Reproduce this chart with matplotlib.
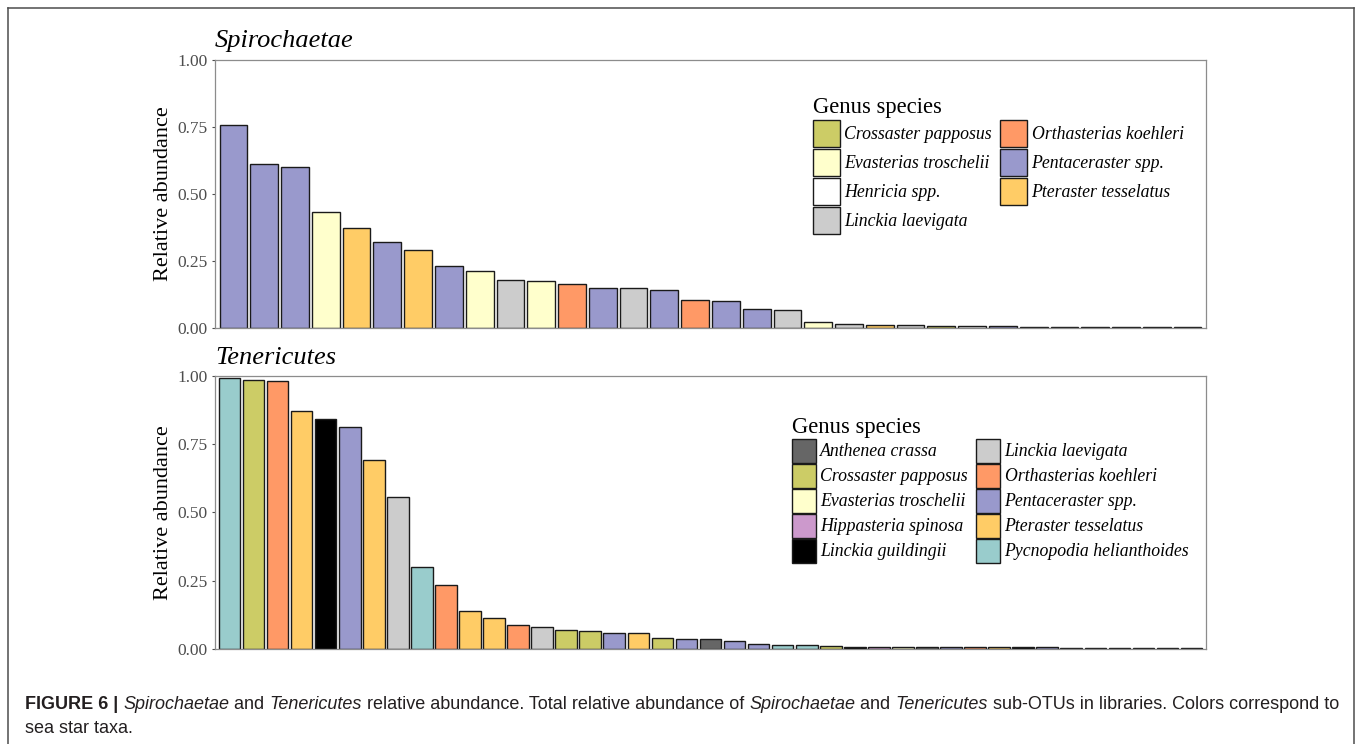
import matplotlib
matplotlib.use("Agg")
import matplotlib.pyplot as plt
from matplotlib.patches import Patch
from matplotlib.lines import Line2D

# ---- sea star taxa and their fill colours ----
taxa_colors = {
    "Anthenea crassa": "#666666",
    "Crossaster papposus": "#CCCC66",
    "Evasterias troschelii": "#FFFFCC",
    "Henricia spp.": "#FFFFFF",
    "Hippasteria spinosa": "#CC99CC",
    "Linckia guildingii": "#000000",
    "Linckia laevigata": "#CCCCCC",
    "Orthasterias koehleri": "#FF9966",
    "Pentaceraster spp.": "#9999CC",
    "Pteraster tesselatus": "#FFCC66",
    "Pycnopodia helianthoides": "#99CCCC",
}

# ---- Spirochaetae sub-OTUs ----
spiro_values = [0.758, 0.610, 0.600, 0.432, 0.374, 0.321, 0.291, 0.232, 0.211, 0.178,
                0.173, 0.164, 0.149, 0.148, 0.141, 0.102, 0.100, 0.071, 0.066, 0.020,
                0.014, 0.011, 0.009, 0.008, 0.007, 0.005, 0.004, 0.004, 0.003, 0.003,
                0.002, 0.001]
spiro_taxa = ["Pentaceraster spp.", "Pentaceraster spp.", "Pentaceraster spp.",
              "Evasterias troschelii", "Pteraster tesselatus", "Pentaceraster spp.",
              "Pteraster tesselatus", "Pentaceraster spp.", "Evasterias troschelii",
              "Linckia laevigata", "Evasterias troschelii", "Orthasterias koehleri",
              "Pentaceraster spp.", "Linckia laevigata", "Pentaceraster spp.",
              "Orthasterias koehleri", "Pentaceraster spp.", "Pentaceraster spp.",
              "Linckia laevigata", "Evasterias troschelii", "Linckia laevigata",
              "Pteraster tesselatus", "Linckia laevigata", "Crossaster papposus",
              "Henricia spp.", "Pentaceraster spp.", "Pentaceraster spp.",
              "Evasterias troschelii", "Pentaceraster spp.", "Orthasterias koehleri",
              "Pentaceraster spp.", "Pteraster tesselatus"]
spiro_legend = ["Crossaster papposus", "Evasterias troschelii", "Henricia spp.",
                "Linckia laevigata", "Orthasterias koehleri", "Pentaceraster spp.",
                "Pteraster tesselatus"]

# ---- Tenericutes sub-OTUs ----
teneri_values = [0.993, 0.984, 0.983, 0.872, 0.841, 0.812, 0.693, 0.557, 0.301, 0.232,
                 0.138, 0.111, 0.088, 0.078, 0.070, 0.065, 0.059, 0.056, 0.038, 0.037,
                 0.037, 0.028, 0.016, 0.015, 0.014, 0.010, 0.008, 0.007, 0.007, 0.006,
                 0.006, 0.005, 0.005, 0.005, 0.005, 0.004, 0.003, 0.003, 0.003, 0.002,
                 0.002]
teneri_taxa = ["Pycnopodia helianthoides", "Crossaster papposus", "Orthasterias koehleri",
               "Pteraster tesselatus", "Linckia guildingii", "Pentaceraster spp.",
               "Pteraster tesselatus", "Linckia laevigata", "Pycnopodia helianthoides",
               "Orthasterias koehleri", "Pteraster tesselatus", "Pteraster tesselatus",
               "Orthasterias koehleri", "Linckia laevigata", "Crossaster papposus",
               "Crossaster papposus", "Pentaceraster spp.", "Pteraster tesselatus",
               "Crossaster papposus", "Pentaceraster spp.", "Anthenea crassa",
               "Pentaceraster spp.", "Pentaceraster spp.", "Pycnopodia helianthoides",
               "Pycnopodia helianthoides", "Crossaster papposus", "Linckia guildingii",
               "Hippasteria spinosa", "Evasterias troschelii", "Anthenea crassa",
               "Pentaceraster spp.", "Orthasterias koehleri", "Pteraster tesselatus",
               "Linckia guildingii", "Pentaceraster spp.", "Pycnopodia helianthoides",
               "Pentaceraster spp.", "Orthasterias koehleri", "Pteraster tesselatus",
               "Pentaceraster spp.", "Linckia laevigata"]
teneri_legend = ["Anthenea crassa", "Crossaster papposus", "Evasterias troschelii",
                 "Hippasteria spinosa", "Linckia guildingii", "Linckia laevigata",
                 "Orthasterias koehleri", "Pentaceraster spp.", "Pteraster tesselatus",
                 "Pycnopodia helianthoides"]

y_ticks = [0.0, 0.25, 0.50, 0.75, 1.00]
y_ticklabels = ["0.00", "0.25", "0.50", "0.75", "1.00"]

SERIF = "Liberation Serif"
SANS = "Liberation Sans"
W, H = 1357, 744

fig = plt.figure(figsize=(W / 100, H / 100), dpi=100)


def px_axes(left, top, right, bottom):
    return fig.add_axes([left / W, 1 - bottom / H, (right - left) / W, (bottom - top) / H])


def bar_panel(ax, values, taxa, title, legend_items, legend_xy, key_px, row_px):
    n = len(values)
    xs = list(range(1, n + 1))
    ax.bar(xs, values, width=0.9, color=[taxa_colors[t] for t in taxa],
           edgecolor="#1a1a1a", linewidth=1.0, zorder=2)
    ax.set_xlim(0.4, n + 0.6)
    ax.set_ylim(0, 1.0)
    ax.set_xticks([])
    ax.set_yticks(y_ticks)
    ax.set_yticklabels(y_ticklabels, fontfamily=SERIF, fontsize=12.5, color="#4d4d4d")
    ax.tick_params(axis="y", length=2.5, width=0.8, color="#4d4d4d", pad=3)
    for s in ax.spines.values():
        s.set_color("#8c8c8c")
        s.set_linewidth(0.9)
    ax.set_ylabel("Relative abundance", fontfamily=SERIF, fontsize=16, color="black",
                  labelpad=3)
    ax.set_title(title, fontfamily=SERIF, fontstyle="italic", fontsize=19,
                 loc="left", pad=9, x=0.0)
    handles = [Patch(facecolor=taxa_colors[t], edgecolor="#1a1a1a", linewidth=1.0)
               for t in legend_items]
    fs = 12.8
    fpx = fs * 100 / 72
    # legend handle height is fontsize * (0.65 * handleheight + 0.245)
    hh = (key_px / fpx - 0.245) / 0.65
    leg = ax.legend(handles, legend_items, ncol=2, frameon=False,
                    loc="upper left",
                    bbox_to_anchor=(legend_xy[0] / W, 1 - legend_xy[1] / H),
                    bbox_transform=fig.transFigure,
                    prop={"family": SERIF, "style": "italic", "size": fs},
                    title="Genus species",
                    title_fontproperties={"family": SERIF, "size": 16.3},
                    handlelength=key_px / fpx, handleheight=hh,
                    handletextpad=0.25, columnspacing=0.45,
                    labelspacing=(row_px - key_px) / fpx, borderpad=0,
                    borderaxespad=0)
    leg._legend_box.align = "left"
    return ax


ax1 = px_axes(215, 60, 1206, 327.7)
bar_panel(ax1, spiro_values, spiro_taxa, "Spirochaetae", spiro_legend,
          (813, 96.5), 27, 29)

ax2 = px_axes(215, 376, 1206, 648.7)
bar_panel(ax2, teneri_values, teneri_taxa, "Tenericutes", teneri_legend,
          (792, 416.5), 24, 25)

# ---- outer frame of the figure box ----
frame_kw = dict(color="#4d4d4d", linewidth=1.1, transform=fig.transFigure)
fx0, fx1, fy0 = 8 / W, 1354 / W, 1 - 8 / H
fig.add_artist(Line2D([fx0, fx1], [fy0, fy0], **frame_kw))
fig.add_artist(Line2D([fx0, fx0], [fy0, 0], **frame_kw))
fig.add_artist(Line2D([fx1, fx1], [fy0, 0], **frame_kw))

# ---- caption with mixed styles ----
renderer = fig.canvas.get_renderer()
cap_size = 13.0
cap_color = "#231f20"


def caption_line(runs, x_px, y_px):
    x = x_px
    for text, weight, style in runs:
        t = fig.text(x / W, 1 - y_px / H, text, fontfamily=SANS, fontsize=cap_size,
                     fontweight=weight, fontstyle=style, color=cap_color,
                     ha="left", va="baseline")
        bb = t.get_window_extent(renderer=renderer)
        x += bb.width


caption_line([
    ("FIGURE 6 | ", "bold", "normal"),
    ("Spirochaetae", "normal", "italic"),
    (" and ", "normal", "normal"),
    ("Tenericutes", "normal", "italic"),
    (" relative abundance. Total relative abundance of ", "normal", "normal"),
    ("Spirochaetae", "normal", "italic"),
    (" and ", "normal", "normal"),
    ("Tenericutes", "normal", "italic"),
    (" sub-OTUs in libraries. Colors correspond to", "normal", "normal"),
], 25, 709)
caption_line([("sea star taxa.", "normal", "normal")], 25, 733)

fig.savefig("out.png", dpi=100)
